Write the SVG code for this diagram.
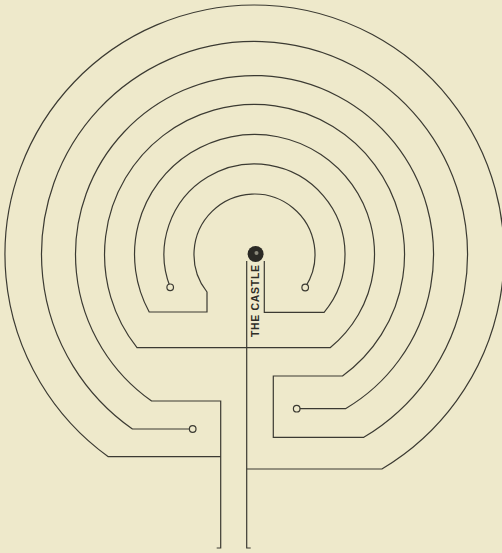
<svg xmlns="http://www.w3.org/2000/svg" width="502" height="553" viewBox="0 0 502 553">
<style>
.w{fill:none;stroke:#3b3a32;stroke-width:1.2;stroke-linejoin:miter;stroke-linecap:butt}
.end{fill:#eee9cb;stroke:#3b3a32;stroke-width:1.2}
.lbl{font-family:"Liberation Sans",Arial,sans-serif;font-size:10.5px;font-weight:bold;fill:#2e2d27}
</style>
<rect x="0" y="0" width="502" height="553" fill="#eee9cb"/>
<g id="walls">
<path class="w" d="M305.2 287.5 A60.5 60.5 0 1 0 207 292 L207 312 L149.2 312 A120 120 0 1 1 330.1 347.7 L137 347.7 A150 150 0 1 1 342.5 376 L273.3 376 L273.3 437.3 L363.8 437.3 A213 213 0 1 0 132.4 429 L192.7 429"/>
<path class="w" d="M170.2 287.3 A90.5 90.5 0 1 1 324.1 312.3 L264.3 312.3 L264.3 261"/>
<path class="w" d="M296.7 408.7 L345.5 408.7 A179 179 0 1 0 151.6 401 L220.7 401 L220.7 548 L216.7 548"/>
<path class="w" d="M246.7 261 L246.7 548 L250.7 548"/>
<path class="w" d="M246.7 469 L381.9 469 A249.5 249.5 0 1 0 108.3 456.7 L220.7 456.7"/>
</g>
<g id="ends">
<circle class="end" cx="305.2" cy="287.5" r="3.3"/>
<circle class="end" cx="170.2" cy="287.3" r="3.3"/>
<circle class="end" cx="192.7" cy="429" r="3.3"/>
<circle class="end" cx="296.7" cy="408.7" r="3.3"/>
</g>
<g id="castle">
<circle cx="255.6" cy="254" r="8" fill="#2b2a25"/>
<circle cx="256.5" cy="253" r="2" fill="#8c8a7c"/>
<text class="lbl" transform="translate(258.8,337) rotate(-90)" textLength="72" lengthAdjust="spacing">THE CASTLE</text>
</g>
</svg>
